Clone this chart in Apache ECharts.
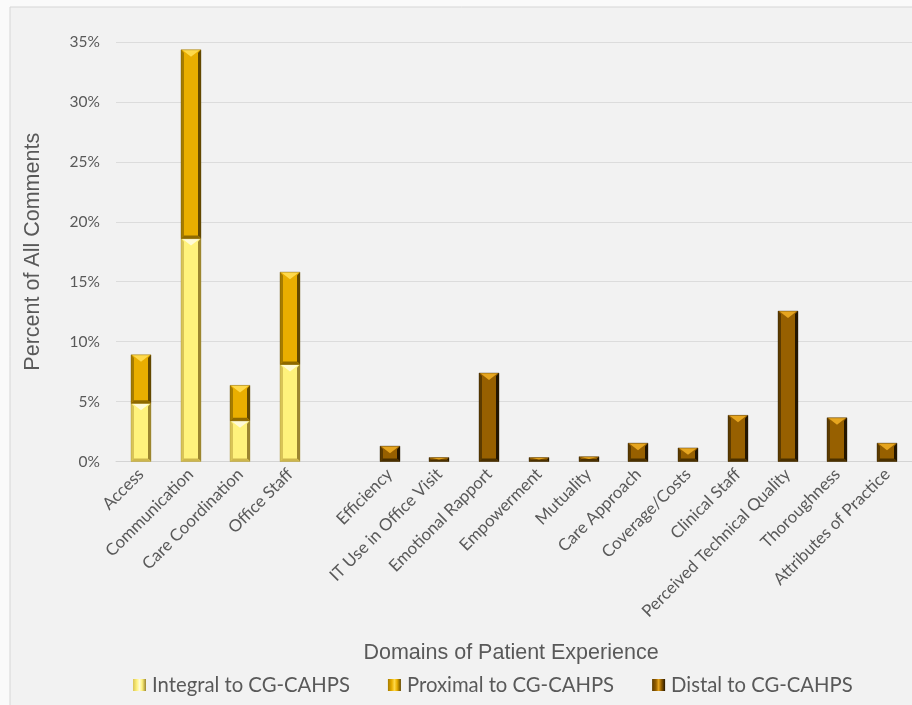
<!DOCTYPE html>
<html><head><meta charset="utf-8">
<script src="https://cdn.jsdelivr.net/npm/echarts@6/dist/echarts.min.js"></script>
<style>html,body{margin:0;padding:0;background:#fafafa;}#c{width:912px;height:705px;}</style>
</head><body><div id="c"></div>
<script>
const categories = ["Access","Communication","Care Coordination","Office Staff","","Efficiency","IT Use in Office Visit","Emotional Rapport","Empowerment","Mutuality","Care Approach","Coverage/Costs","Clinical Staff","Perceived Technical Quality","Thoroughness","Attributes of Practice"];
const integral = [4.85, 18.6, 3.4, 8.1, null, null, null, null, null, null, null, null, null, null, null, null];
const proximal = [4.05, 15.75, 2.95, 7.7, null, null, null, null, null, null, null, null, null, null, null, null];
const distal   = [null, null, null, null, null, 1.28, 0.33, 7.38, 0.33, 0.4, 1.53, 1.13, 3.85, 12.55, 3.65, 1.53];
const yTicks = [0, 5, 10, 15, 20, 25, 30, 35];
const seriesNames = ["Integral to CG-CAHPS","Proximal to CG-CAHPS","Distal to CG-CAHPS"];

const palettes = [
  {main: '#fff27c', hi: '#fffbd6', left: '#d9c457', right: '#9c8630', bottom: '#cdb64c'},
  {main: '#e9ae00', hi: '#ffd94a', left: '#a67c00', right: '#634800', bottom: '#8f6a00'},
  {main: '#976000', hi: '#e6a51f', left: '#5c3b00', right: '#241600', bottom: '#4a3000'}
];

function toItems(vals, bases) {
  const out = [];
  vals.forEach((v, i) => { if (v != null) out.push([i, v, bases ? (bases[i] || 0) : 0]); });
  return out;
}

function makeRender(p) {
  return function (params, api) {
    const x = api.value(0), v = api.value(1), b = api.value(2);
    const p0 = api.coord([x, b]);
    const p1 = api.coord([x, b + v]);
    const w = 20;
    const l = Math.round(p0[0] - w / 2), r = l + w;
    const t = p1[1], bt = p0[1];
    const h = bt - t;
    const e = Math.min(3, h / 2);
    const ch = Math.min(7, h / 2);
    return {
      type: 'group',
      children: [
        {type: 'rect', shape: {x: l, y: t, width: w, height: h}, style: {fill: p.main}},
        {type: 'polygon', shape: {points: [[l, t], [l + e, t + e], [l + e, bt - e], [l, bt]]}, style: {fill: p.left}},
        {type: 'polygon', shape: {points: [[r, t], [r - e, t + e], [r - e, bt - e], [r, bt]]}, style: {fill: p.right}},
        {type: 'polygon', shape: {points: [[l, bt], [l + e, bt - e], [r - e, bt - e], [r, bt]]}, style: {fill: p.bottom}},
        {type: 'polygon', shape: {points: [[l + 1, t], [r - 1, t], [(l + r) / 2, t + ch]]}, style: {fill: p.hi}},
        {type: 'rect', shape: {x: l, y: t, width: w, height: h}, style: {fill: 'none', stroke: p.right, lineWidth: 0.6, opacity: 0.6}}
      ]
    };
  };
}

function legendColor(p) {
  return new echarts.graphic.LinearGradient(0, 0, 1, 0, [
    {offset: 0, color: p.left}, {offset: 0.3, color: p.main}, {offset: 0.5, color: p.hi},
    {offset: 0.7, color: p.main}, {offset: 1, color: p.right}]);
}

const chart = echarts.init(document.getElementById('c'));
const txt = '#595959';
chart.setOption({
  backgroundColor: 'transparent',
  animation: false,
  graphic: [{type: 'rect', shape: {x: 10, y: 7, width: 920, height: 720}, style: {fill: '#f2f2f2', stroke: '#d6d6d6', lineWidth: 1}, z: -10}],
  grid: {left: 116, right: -1, top: 42, bottom: 243.5, containLabel: false},
  legend: {
    top: 670, left: 128, itemGap: 38, itemWidth: 13, itemHeight: 12,
    icon: 'rect',
    textStyle: {fontFamily: 'Lato', fontSize: 20.3, color: txt, padding: [0, 0, 0, 1]},
    data: seriesNames
  },
  xAxis: {
    type: 'category', data: categories,
    name: 'Domains of Patient Experience', nameLocation: 'middle', nameGap: 181,
    nameTextStyle: {fontFamily: 'Liberation Sans', fontSize: 21.5, color: txt, padding: [0, 0, 0, -6]},
    axisLine: {lineStyle: {color: '#d4d4d4'}}, axisTick: {show: false},
    axisLabel: {rotate: 45, interval: 0, fontFamily: 'Lato', fontSize: 16.8, color: txt, margin: 10}
  },
  yAxis: {
    type: 'value', min: 0, max: 35, interval: 5,
    name: 'Percent of All Comments', nameLocation: 'middle', nameGap: 72, nameRotate: 90,
    nameTextStyle: {fontFamily: 'Liberation Sans', fontSize: 21.5, color: txt},
    axisLabel: {formatter: '{value}%', fontFamily: 'Lato', fontSize: 15.5, color: txt, margin: 16},
    axisLine: {show: false}, axisTick: {show: false},
    splitLine: {lineStyle: {color: '#dcdcdc'}}
  },
  series: [
    {name: seriesNames[0], type: 'custom', renderItem: makeRender(palettes[0]), encode: {x: 0, y: 1},
     itemStyle: {color: legendColor(palettes[0])}, data: toItems(integral, null)},
    {name: seriesNames[1], type: 'custom', renderItem: makeRender(palettes[1]), encode: {x: 0, y: 1},
     itemStyle: {color: legendColor(palettes[1])}, data: toItems(proximal, integral)},
    {name: seriesNames[2], type: 'custom', renderItem: makeRender(palettes[2]), encode: {x: 0, y: 1},
     itemStyle: {color: legendColor(palettes[2])}, data: toItems(distal, null)}
  ]
});
</script></body></html>
